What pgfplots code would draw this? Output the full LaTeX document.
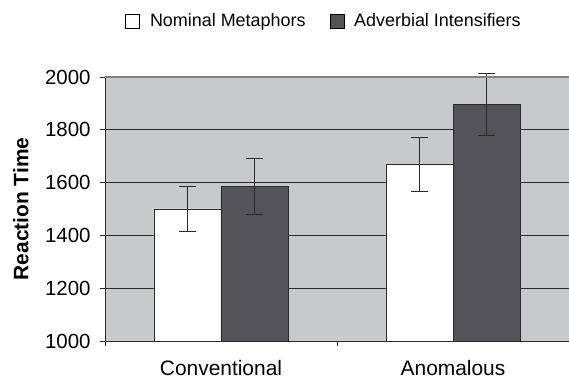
\documentclass[border=0pt]{standalone}
\usepackage{fontspec}
\setmainfont{Liberation Sans}
\usepackage{pgfplots}
\pgfplotsset{compat=1.18}
\usetikzlibrary{calc}
\definecolor{bggray}{HTML}{C8C9CB}
\definecolor{darkbar}{HTML}{545359}
\definecolor{gridc}{HTML}{2A2A2A}
\begin{document}
\begin{tikzpicture}
\begin{axis}[
  scale only axis,
  width=464bp, height=264bp,
  xmin=-0.5, xmax=1.5,
  ymin=1000, ymax=2000,
  clip=false,
  axis x line*=bottom, axis y line*=left,
  axis line style={-, draw=gridc, line width=0.9bp},
  axis background/.style={fill=bggray},
  ytick={1000,1200,1400,1600,1800,2000},
  extra y ticks={1200,1400,1600,1800},
  extra y tick style={grid=major, major tick length=0pt, yticklabels={}},
  grid style={draw=gridc, line width=0.9bp},
  xtick={-0.5,0.5,1.5},
  x tick label as interval,
  xticklabels={Conventional,Anomalous},
  tick align=outside,
  major tick length=5bp,
  tick style={draw=gridc, line width=0.9bp},
  /pgf/number format/assume math mode=true,
  /pgf/number format/1000 sep={},
  yticklabel style={font=\fontsize{20.5}{24}\selectfont, color=black, xshift=-6bp},
  xticklabel style={font=\fontsize{21}{24}\selectfont, color=black, yshift=-11bp},
  ylabel={\bfseries Reaction Time},
  ylabel style={font=\fontsize{21}{24}\selectfont, at={(axis description cs:-0.181,0.5)}, anchor=center},
  ybar, bar width=0.289,
  legend columns=2,
  legend style={draw=none, fill=none, at={(axis description cs:0.472,1.212)}, anchor=center,
    font=\fontsize{18}{21}\selectfont,
    /tikz/every odd column/.append style={column sep=8bp},
    /tikz/every even column/.append style={column sep=22bp}},
  legend image code/.code={\draw[#1, draw=black, line width=0.7bp] (0bp,-7bp) rectangle (14bp,7bp);},
]
\addplot[fill=white, draw=gridc, line width=0.9bp, bar shift=-0.1445,
  error bars/.cd, y dir=both, y explicit,
  error bar style={draw=gridc, line width=0.9bp},
  error mark options={rotate=90, mark size=8.5bp, draw=gridc, line width=0.9bp}]
  coordinates {(0,1500) +- (0,85) (1,1668) +- (0,103)};
\addlegendentry{Nominal Metaphors}
\addplot[fill=darkbar, draw=gridc, line width=0.9bp, bar shift=0.1445,
  error bars/.cd, y dir=both, y explicit,
  error bar style={draw=gridc, line width=0.9bp},
  error mark options={rotate=90, mark size=8.5bp, draw=gridc, line width=0.9bp}]
  coordinates {(0,1586) +- (0,106) (1,1896) +- (0,117)};
\addlegendentry{Adverbial Intensifiers}
\draw[draw=gray, line width=1.2bp] (rel axis cs:0,1) -- (rel axis cs:1,1);
\end{axis}
\pgfresetboundingbox
\path[use as bounding box] ($(current axis.south west)+(-105bp,-38bp)$) rectangle ($(current axis.north east)+(0bp,77bp)$);
\end{tikzpicture}
\end{document}
